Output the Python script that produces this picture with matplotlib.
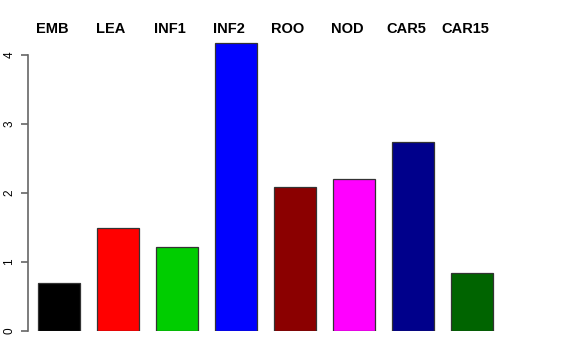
import matplotlib
matplotlib.use("Agg")
from matplotlib import pyplot
import numpy

# данные
categories = ["EMB", "LEA", "INF1", "INF2", "ROO", "NOD", "CAR5", "CAR15"]
values = [0.70, 1.49, 1.22, 4.17, 2.09, 2.20, 2.74, 0.84]
colors = ["#000000", "#FF0000", "#00CD00", "#0000FF",
          "#8B0000", "#FF00FF", "#00008B", "#006400"]
yticks = [0, 1, 2, 3, 4]

pyplot.rcParams["font.family"] = ["Liberation Sans", "DejaVu Sans"]

W, H = 576, 360
fig = pyplot.figure(figsize=(W / 100, H / 100), dpi=100)

# оси в пикселях: левая линия x=28, ноль y=331, верх y=40
left, right, bottom, top = 28, 520, 331, 40
ax = fig.add_axes([left / W, 1 - bottom / H, (right - left) / W, (bottom - top) / H])

px = 59.0  # шаг столбцов в пикселях
x = numpy.arange(len(categories))
ax.bar(x, values, width=42 / px, color=colors, edgecolor="#333333", linewidth=0.9)

ax.set_xlim((left - 59) / px, (right - 59) / px)
ax.set_ylim(0, (bottom - top) / 69.0)

for s in ["top", "right", "bottom"]:
    ax.spines[s].set_visible(False)
ax.spines["left"].set_color("#666666")
ax.spines["left"].set_bounds(0, 4)
ax.spines["left"].set_linewidth(1.2)

ax.set_xticks([])
ax.set_yticks(yticks)
ax.set_yticklabels([str(t) for t in yticks], rotation=90, va="center", fontsize=8.5)
ax.tick_params(axis="y", length=5, width=1.2, color="#666666", pad=4)

# подписи категорий сверху (слегка сдвинуты влево, как в оригинале)
for xi, name in zip(x, categories):
    ax.text(xi - 7 / px, (bottom - 29) / 69.0, name, ha="center", va="center",
            fontsize=10.5, fontweight="bold", clip_on=False)

fig.savefig("out.png", dpi=100)
